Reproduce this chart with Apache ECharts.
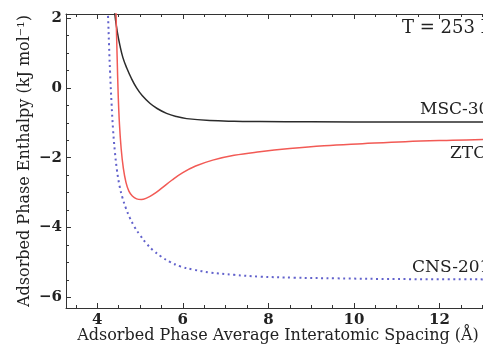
<!DOCTYPE html>
<html>
<head>
<meta charset="utf-8">
<script src="https://cdn.jsdelivr.net/npm/echarts@6/dist/echarts.min.js"></script>
<style>
  html, body { margin: 0; padding: 0; background: #fff; }
  #chart { width: 483px; height: 354px; }
</style>
</head>
<body>
<div id="chart"></div>
<script>
// curves: [spacing (Å), enthalpy (kJ/mol)]
const msc30 = [[4.38, 2.6], [4.41, 2.12], [4.47, 1.6], [4.53, 1.22], [4.6, 0.87], [4.69, 0.57], [4.8, 0.27],
  [4.92, 0.0], [5.05, -0.22], [5.23, -0.44], [5.4, -0.59], [5.62, -0.73], [5.85, -0.82], [6.09, -0.88],
  [6.63, -0.935], [7.2, -0.955], [7.8, -0.962], [9, -0.97], [11, -0.977], [13.3, -0.98]]
const ztc = [[4.43, 2.8], [4.44, 2.12], [4.465, 0.9], [4.49, -0.2], [4.52, -1.05], [4.56, -1.75], [4.61, -2.3],
  [4.67, -2.7], [4.74, -2.96], [4.82, -3.1], [4.92, -3.18], [5.03, -3.2], [5.15, -3.16], [5.3, -3.06],
  [5.5, -2.88], [5.75, -2.64], [6.0, -2.43], [6.3, -2.24], [6.7, -2.07], [7.2, -1.93], [7.8, -1.83],
  [8.5, -1.74], [9.3, -1.66], [10.2, -1.6], [11.2, -1.54], [12.3, -1.5], [13.3, -1.47]]
const cns201 = [[4.22, 2.7], [4.25, 2.12], [4.275, 1.25], [4.3, 0.45], [4.335, -0.45], [4.37, -1.2],
  [4.41, -1.8], [4.46, -2.35], [4.52, -2.8], [4.59, -3.15], [4.67, -3.45], [4.76, -3.72], [4.87, -3.98],
  [5.0, -4.22], [5.15, -4.46], [5.31, -4.66], [5.5, -4.84], [5.7, -4.99], [5.95, -5.12], [6.25, -5.21],
  [6.63, -5.29], [7.2, -5.36], [7.8, -5.41], [8.6, -5.44], [9.6, -5.46], [11, -5.48], [13.3, -5.49]]

// tick steps (major / minor) and first tick values
const xTicks = { first: 4, firstMinor: 3.5, major: 2, minor: 0.5 }
const yTicks = { first: -6, last: 2, major: 2, minor: 0.5 }

const FONT = 'DejaVu Serif'
const AX = '#333'
const X_MIN = 3.27, X_MAX = 13.18
const Y_MIN = -6.31, Y_MAX = 2.12

// plot box in pixels (right edge runs past the canvas, like the cropped original)
const L = 66, R = -7, T = 14, B = 46
const W = 483 - L - R, H = 354 - T - B
const kx = W / (X_MAX - X_MIN)
const ky = H / (Y_MAX - Y_MIN)

// tick-only axes live on their own grids, shifted so their min sits on a tick
function grid (left, top, bottom) {
  return { left: left, right: R, top: top, bottom: bottom, outerBoundsMode: 'none', containLabel: false }
}
const gridMain = grid(L, T, B)
const gridXMajor = grid(L + (xTicks.first - X_MIN) * kx, T, B)
const gridXMinor = grid(L + (xTicks.firstMinor - X_MIN) * kx, T, B)
const gridY = grid(L, T + (Y_MAX - yTicks.last) * ky, B + (yTicks.first - Y_MIN) * ky)

function tickX (gi, pos, min, step, len, label) {
  return {
    type: 'value', gridIndex: gi, position: pos, min: min, max: X_MAX, interval: step,
    axisLine: { show: false, onZero: false },
    axisTick: { show: true, inside: true, length: len, lineStyle: { color: AX, width: 1 } },
    axisLabel: label
      ? { show: true, showMaxLabel: false, margin: 5, fontFamily: FONT, fontSize: 15, fontWeight: 'bold', color: '#222' }
      : { show: false },
    splitLine: { show: false }
  }
}
function tickY (step, len, label) {
  return {
    type: 'value', gridIndex: 3, position: 'left', min: yTicks.first, max: yTicks.last, interval: step,
    axisLine: { show: false, onZero: false },
    axisTick: { show: true, inside: true, length: len, lineStyle: { color: AX, width: 1 } },
    axisLabel: label
      ? { show: true, margin: 4, fontFamily: FONT, fontSize: 15, fontWeight: 'bold', color: '#222',
          formatter: v => String(v).replace('-', '−') }
      : { show: false },
    splitLine: { show: false }
  }
}
function blankAxis (gi) {
  return { type: 'value', gridIndex: gi, show: false, axisLine: { onZero: false }, splitLine: { show: false } }
}

const chart = echarts.init(document.getElementById('chart'))
const option = {
  backgroundColor: '#fff',
  animation: false,
  grid: [gridMain, gridXMajor, gridXMinor, gridY],
  xAxis: [
    {
      type: 'value', gridIndex: 0, position: 'bottom', min: X_MIN, max: X_MAX,
      name: 'Adsorbed Phase Average Interatomic Spacing (Å)',
      nameLocation: 'middle', nameGap: 20,
      nameTextStyle: { fontFamily: FONT, fontSize: 16, color: '#222' },
      axisLine: { onZero: false, lineStyle: { color: AX, width: 1 } },
      axisTick: { show: false }, axisLabel: { show: false }, splitLine: { show: false }
    },
    {
      type: 'value', gridIndex: 0, position: 'top', min: X_MIN, max: X_MAX,
      axisLine: { onZero: false, lineStyle: { color: AX, width: 1 } },
      axisTick: { show: false }, axisLabel: { show: false }, splitLine: { show: false }
    },
    tickX(1, 'bottom', xTicks.first, xTicks.major, 5, true),
    tickX(1, 'top', xTicks.first, xTicks.major, 5, false),
    tickX(2, 'bottom', xTicks.firstMinor, xTicks.minor, 3, false),
    tickX(2, 'top', xTicks.firstMinor, xTicks.minor, 3, false),
    blankAxis(3)
  ],
  yAxis: [
    {
      type: 'value', gridIndex: 0, position: 'left', min: Y_MIN, max: Y_MAX,
      name: 'Adsorbed Phase Enthalpy (kJ mol⁻¹)',
      nameLocation: 'middle', nameGap: 33,
      nameTextStyle: { fontFamily: FONT, fontSize: 16, color: '#222' },
      axisLine: { show: true, onZero: false, lineStyle: { color: AX, width: 1 } },
      axisTick: { show: false }, axisLabel: { show: false }, splitLine: { show: false }
    },
    blankAxis(1),
    blankAxis(2),
    tickY(yTicks.major, 5, true),
    tickY(yTicks.minor, 3, false)
  ],
  series: [
    {
      name: 'MSC-30', type: 'line', data: msc30, showSymbol: false,
      smooth: 0.4, clip: true,
      lineStyle: { color: '#2b2b2b', width: 1.5 }
    },
    {
      name: 'ZTC', type: 'line', data: ztc, showSymbol: false,
      smooth: 0.4, clip: true,
      lineStyle: { color: '#f25a55', width: 1.5 }
    },
    {
      name: 'CNS-201', type: 'line', data: cns201, showSymbol: false,
      smooth: 0.4, clip: true,
      lineStyle: { color: '#6262cc', width: 2, type: [2, 3.5] }
    }
  ],
  graphic: [
    { type: 'text', left: 402, top: 19, style: { text: 'T = 253 K', font: '18px "DejaVu Serif"', fill: '#222' } },
    { type: 'text', left: 420, top: 101, style: { text: 'MSC-30', font: '17px "DejaVu Serif"', fill: '#222' } },
    { type: 'text', left: 450, top: 145, style: { text: 'ZTC', font: '17px "DejaVu Serif"', fill: '#222' } },
    { type: 'text', left: 412, top: 259, style: { text: 'CNS-201', font: '17px "DejaVu Serif"', fill: '#222' } }
  ]
}
chart.setOption(option)
</script>
</body>
</html>
